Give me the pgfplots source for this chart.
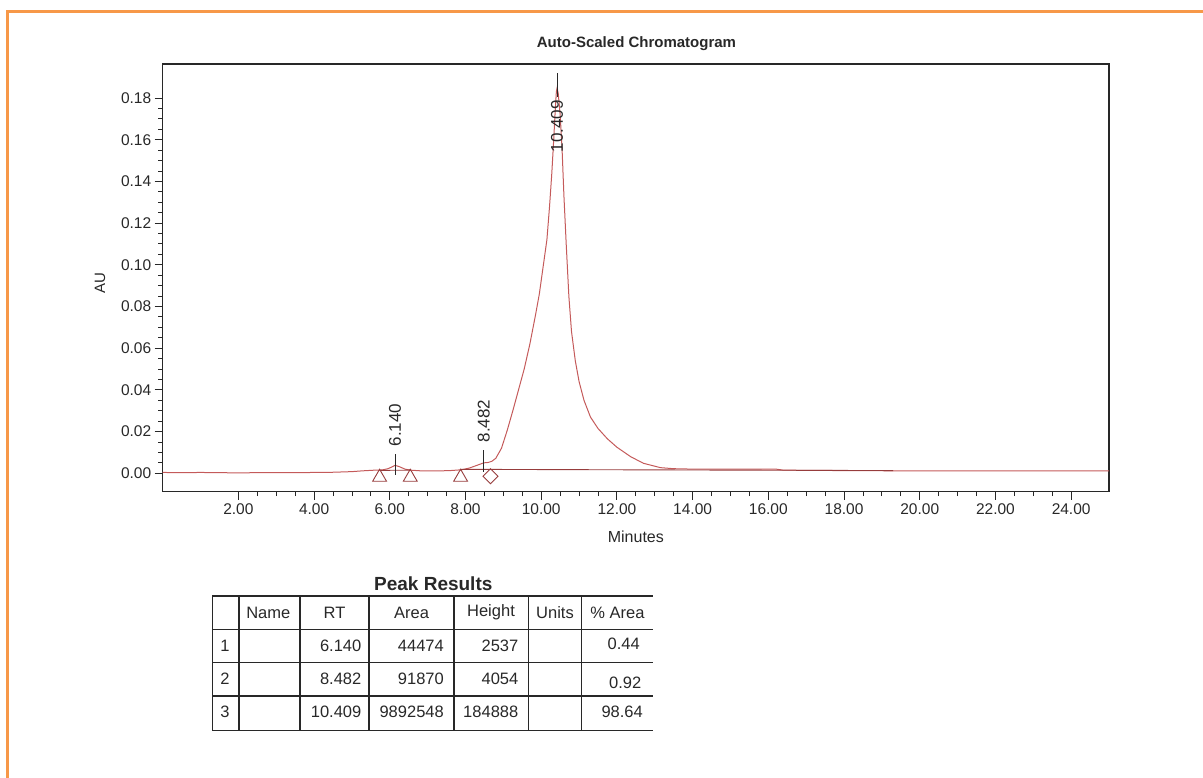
\documentclass[border=0pt]{standalone}
\usepackage{fontspec}
\setmainfont{Liberation Sans}
\usepackage{pgfplots}
\pgfplotsset{compat=1.18}
\definecolor{frameorange}{RGB}{247,152,72}
\definecolor{trace}{RGB}{196,90,90}
\definecolor{mk}{RGB}{150,60,60}
\definecolor{axline}{RGB}{40,40,40}
\begin{document}
\begin{tikzpicture}
\begin{scope}[x=1pt,y=1pt]
\path[use as bounding box] (0,0) rectangle (1203,-778);
\draw[frameorange, line width=3pt] (7.3,-778) -- (7.3,-11.7) -- (1203,-11.7);
\node[font=\fontsize{15}{18}\selectfont\bfseries, text=axline] at (636.5,-44) {Auto-Scaled Chromatogram};
\end{scope}
\begin{axis}[
  at={(162.7pt,-491.7pt)}, anchor=south west, scale only axis,
  width=946.3pt, height=427.7pt,
  xmin=0, xmax=25, ymin=-0.00883, ymax=0.1963,
  axis line style={axline, line width=1.2pt},
  tick style={axline, line width=0.9pt},
  tick align=outside, xtick pos=bottom, ytick pos=left,
  major tick length=8pt, minor tick length=4.5pt,
  xtick={2,4,6,8,10,12,14,16,18,20,22,24},
  ytick={0,0.02,0.04,0.06,0.08,0.1,0.12,0.14,0.16,0.18},
  minor x tick num=3, minor y tick num=3,
  scaled x ticks=false, scaled y ticks=false,
  tick label style={font=\fontsize{15.5}{18}\selectfont, text=axline},
  xticklabel style={/pgf/number format/.cd, fixed, fixed zerofill, precision=2, assume math mode=true},
  yticklabel style={/pgf/number format/.cd, fixed, fixed zerofill, precision=2, assume math mode=true},
  xlabel={Minutes}, ylabel={AU},
  x label style={at={(axis description cs:0.5,-0.105)}, anchor=center, font=\fontsize{16}{19}\selectfont, text=axline},
  y label style={at={(axis description cs:-0.0663,0.488)}, anchor=center, font=\fontsize{15}{18}\selectfont, text=axline},
]
\addplot[trace, line width=1pt] coordinates {
(0.0,0.0004) (0.5,0.0003) (1.0,0.0004) (1.5,0.0003) (2.0,0.0002) (2.5,0.0003)
(3.0,0.0003) (3.5,0.0003) (4.0,0.0004) (4.5,0.0005) (5.0,0.0008) (5.3,0.0012)
(5.6,0.0015) (5.8,0.0016) (5.95,0.0022) (6.05,0.0030) (6.14,0.0038) (6.25,0.0032)
(6.4,0.0020) (6.55,0.0015) (6.8,0.0012) (7.2,0.0011) (7.6,0.0013) (7.9,0.0017)
(8.1,0.0025) (8.3,0.0038) (8.48,0.0050) (8.6,0.0052) (8.7,0.0058) (8.8,0.0072)
(8.95,0.0120) (9.10,0.0205) (9.25,0.0300) (9.40,0.0400) (9.55,0.0500) (9.70,0.0620)
(9.85,0.0760) (9.95,0.0860) (10.05,0.0990) (10.15,0.1120) (10.22,0.1280) (10.28,0.1440)
(10.33,0.1600) (10.37,0.1740) (10.40,0.1830) (10.42,0.1849) (10.45,0.1820) (10.50,0.1720)
(10.55,0.1560) (10.60,0.1330) (10.66,0.1100) (10.73,0.0850) (10.80,0.0680) (10.90,0.0540)
(11.00,0.0440) (11.13,0.0350) (11.30,0.0270) (11.50,0.0215) (11.75,0.0165) (12.00,0.0125)
(12.36,0.0080) (12.70,0.0048) (13.15,0.0027) (13.50,0.0022) (14.0,0.0020) (15.0,0.0020)
(16.2,0.0020) (16.4,0.0015) (18.0,0.0013) (19.3,0.0012) (21.0,0.0011) (23.0,0.0011)
(25.0,0.0011)
};
% integration baselines
\addplot[mk, line width=0.9pt] coordinates {(7.87,0.0019) (19.3,0.0013)};
\addplot[mk, line width=0.9pt] coordinates {(5.73,0.0014) (6.54,0.0015)};
% peak start/end markers
\addplot[only marks, mark=triangle, mark size=8pt, mk, mark options={line width=0.9pt, fill=none}]
  coordinates {(5.73,-0.0019) (6.54,-0.0019) (7.87,-0.0019)};
\addplot[only marks, mark=square, mark size=5.3pt, mk, mark options={rotate=45, line width=0.9pt, fill=none}]
  coordinates {(8.66,-0.0014)};
% peak apex tick lines
\addplot[axline, line width=1pt] coordinates {(6.14,-0.0008) (6.14,0.0093)};
\addplot[axline, line width=1pt] coordinates {(8.48,0.0008) (8.48,0.0112)};
\addplot[axline, line width=1pt] coordinates {(10.42,0.1807) (10.42,0.1922)};
\node[rotate=90, font=\fontsize{17}{20}\selectfont, text=axline] at (axis cs:6.14,0.0232) {6.140};
\node[rotate=90, font=\fontsize{17}{20}\selectfont, text=axline] at (axis cs:8.48,0.0250) {8.482};
\node[rotate=90, font=\fontsize{17}{20}\selectfont, text=axline] at (axis cs:10.42,0.1665) {10.409};
\end{axis}
\begin{scope}[x=1pt,y=1pt]
% Peak Results table
\node[font=\fontsize{19}{22}\selectfont\bfseries, text=axline] at (433.3,-584) {Peak Results};
\begin{scope}[line width=1.1pt, axline]
\foreach \yy in {596,629.3,662.7,696,730.7} {\draw (212.3,-\yy) -- (653.3,-\yy);}
\foreach \xx in {212.3,239,300,369,454,528.3,581.7} {\draw (\xx,-596) -- (\xx,-731);}
\end{scope}
\begin{scope}[every node/.style={font=\fontsize{16.5}{19}\selectfont, text=axline}]
\node at (268.3,-612.7) {Name};
\node at (334.5,-612.7) {RT};
\node at (411.5,-612.7) {Area};
\node at (491,-612.7) {Height};
\node at (555,-612.7) {Units};
\node at (617.5,-612.7) {\% Area};
\node at (225,-646) {1};
\node at (225,-679) {2};
\node at (225,-712) {3};
\node[anchor=east, inner sep=0pt] at (361.5,-646) {6.140};
\node[anchor=east, inner sep=0pt] at (444,-646) {44474};
\node[anchor=east, inner sep=0pt] at (518.5,-646) {2537};
\node[anchor=east, inner sep=0pt] at (640,-643.5) {0.44};
\node[anchor=east, inner sep=0pt] at (361.5,-678.5) {8.482};
\node[anchor=east, inner sep=0pt] at (444,-678.5) {91870};
\node[anchor=east, inner sep=0pt] at (518.5,-678.5) {4054};
\node[anchor=east, inner sep=0pt] at (641.5,-682.5) {0.92};
\node[anchor=east, inner sep=0pt] at (361.5,-712) {10.409};
\node[anchor=east, inner sep=0pt] at (444,-712) {9892548};
\node[anchor=east, inner sep=0pt] at (518.5,-712) {184888};
\node[anchor=east, inner sep=0pt] at (643,-712) {98.64};
\end{scope}
\end{scope}
\end{tikzpicture}
\end{document}
